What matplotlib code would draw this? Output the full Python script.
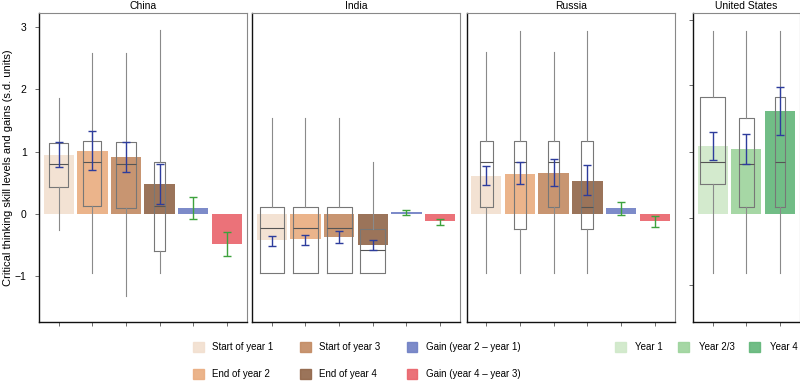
import matplotlib
matplotlib.use('Agg')
import matplotlib.pyplot as plt
import matplotlib.patches as mpatches

plt.rcParams['font.family'] = ['Liberation Sans', 'DejaVu Sans']

# группы и цвета
groups = ['Start of year 1', 'End of year 2', 'Start of year 3', 'End of year 4',
          'Gain (year 2 – year 1)', 'Gain (year 4 – year 3)']
group_colors = ['#f2dfcf', '#e9ac7f', '#c28a62', '#906548', '#6f7fc4', '#e9636a']
us_groups = ['Year 1', 'Year 2/3', 'Year 4']
us_colors = ['#cfe8c8', '#9cd39b', '#62b679']

# средние (столбцы)
china_bars = [0.95, 1.02, 0.92, 0.48, 0.09, -0.48]
india_bars = [-0.42, -0.40, -0.37, -0.49, 0.03, -0.11]
russia_bars = [0.61, 0.65, 0.66, 0.53, 0.09, -0.11]
us_bars = [1.09, 1.04, 1.65]

# доверительные интервалы
china_ci_lo = [0.76, 0.71, 0.67, 0.17, -0.08, -0.67]
china_ci_hi = [1.15, 1.34, 1.15, 0.80, 0.27, -0.29]
india_ci_lo = [-0.51, -0.49, -0.47, -0.58, -0.02, -0.18]
india_ci_hi = [-0.35, -0.34, -0.27, -0.41, 0.07, -0.08]
russia_ci_lo = [0.47, 0.48, 0.45, 0.30, -0.02, -0.21]
russia_ci_hi = [0.77, 0.83, 0.88, 0.78, 0.20, -0.03]
us_ci_lo = [0.86, 0.80, 1.27]
us_ci_hi = [1.32, 1.29, 2.04]

# ящики: нижний ус, Q1, медиана, Q3, верхний ус, ширина
china_box = dict(lo=[-0.26, -0.94, -1.31, -0.94], q1=[0.44, 0.13, 0.09, -0.59],
                 med=[0.80, 0.83, 0.80, 0.13], q3=[1.14, 1.18, 1.15, 0.83],
                 hi=[1.86, 2.59, 2.58, 2.95], w=[0.57, 0.54, 0.60, 0.35])
india_box = dict(lo=[-0.94, -0.94, -0.94, -0.94], q1=[-0.94, -0.94, -0.94, -0.94],
                 med=[-0.23, -0.23, -0.23, -0.58], q3=[0.12, 0.12, 0.12, -0.24],
                 hi=[1.54, 1.54, 1.54, 0.83], w=[0.70, 0.75, 0.75, 0.75])
russia_box = dict(lo=[-0.94, -0.94, -0.94, -0.94], q1=[0.12, -0.24, 0.12, -0.24],
                  med=[0.83, 0.83, 0.83, 0.12], q3=[1.18, 1.18, 1.18, 1.18],
                  hi=[2.60, 2.94, 2.60, 2.94], w=[0.40, 0.36, 0.34, 0.35])
us_box = dict(lo=[-0.94, -0.94, -0.94], q1=[0.48, 0.12, 0.12],
              med=[0.83, 0.80, 0.83], q3=[1.88, 1.54, 1.88],
              hi=[2.94, 2.94, 2.94], w=[0.74, 0.44, 0.30])

panels = [
    ('China', china_bars, china_ci_lo, china_ci_hi, china_box, group_colors),
    ('India', india_bars, india_ci_lo, india_ci_hi, india_box, group_colors),
    ('Russia', russia_bars, russia_ci_lo, russia_ci_hi, russia_box, group_colors),
    ('United States', us_bars, us_ci_lo, us_ci_hi, us_box, us_colors),
]

fig = plt.figure(figsize=(8, 3.82), dpi=100)
W, H = 800, 382
ax_px = [(39.3, 247), (252.3, 460.3), (466.7, 675), (693.3, 800)]
ylo, yhi = -1.73, 3.22

for i, (name, bars, ci_lo, ci_hi, box, colors) in enumerate(panels):
    x0, x1 = ax_px[i]
    ax = fig.add_axes([x0 / W, 1 - 322 / H, (x1 - x0) / W, (322 - 13.3) / H])
    n = len(bars)
    xs = list(range(n))
    ax.bar(xs, bars, width=0.9, color=colors, alpha=0.9, zorder=1)

    stats = []
    for k in range(len(box['med'])):
        stats.append(dict(whislo=box['lo'][k], q1=box['q1'][k], med=box['med'][k],
                          q3=box['q3'][k], whishi=box['hi'][k], fliers=[]))
    ax.bxp(stats, positions=list(range(len(stats))), widths=box['w'],
           showcaps=False, patch_artist=False, manage_ticks=False,
           boxprops=dict(color='#777777', lw=0.8),
           whiskerprops=dict(color='#8a8a8a', lw=0.8),
           medianprops=dict(color='#555555', lw=0.8), zorder=2)

    # интервалы: синие для уровней, зелёные для приростов
    for k in range(n):
        is_gain = (n == 6 and k >= 4)
        c = '#3da23d' if is_gain else '#2d3c9c'
        mid = (ci_lo[k] + ci_hi[k]) / 2
        ax.errorbar(k, mid, yerr=[[mid - ci_lo[k]], [ci_hi[k] - mid]], fmt='none',
                    ecolor=c, elinewidth=1.0, capsize=3, capthick=1.0, zorder=3)

    if n == 6:
        ax.set_xlim(-0.58, 5.6)
    else:
        ax.set_xlim(-0.58, 2.6)
    ax.set_ylim(ylo, yhi)
    ax.set_xticks(xs)
    ax.set_xticklabels([])
    ax.tick_params(axis='x', length=3, width=0.6, color='#555555')
    ax.tick_params(axis='y', length=3, width=0.6, color='#555555', labelsize=7.5, pad=6)
    if i == 0:
        ax.set_yticks([3, 2, 1, 0, -1])
        ax.set_yticklabels(['3', '2', '1', '0', '−1'])
        ax.set_ylabel('Critical thinking skill levels and gains (s.d. units)', fontsize=8)
        ax.yaxis.set_label_coords(-0.128, 0.5)
    elif i == 3:
        ax.set_yticks([3.12, 2.07, 1.0, -0.07, -1.14])
        ax.set_yticklabels([])
    else:
        ax.set_yticks([])
    for side in ['top', 'right']:
        ax.spines[side].set_color('#888888')
        ax.spines[side].set_linewidth(0.8)
    for side in ['left', 'bottom']:
        ax.spines[side].set_color('#111111')
        ax.spines[side].set_linewidth(1.0)
    ax.set_title(name, fontsize=7.5, pad=3)

h1 = [mpatches.Patch(color=c, alpha=0.9) for c in group_colors]
fig.legend(h1, groups, ncol=3, loc='upper left', bbox_to_anchor=(188 / W, 1 - 337 / H),
           frameon=False, fontsize=7, handlelength=1.1, handleheight=1.2,
           handletextpad=0.85, columnspacing=2.75, labelspacing=1.7, borderpad=0)
h2 = [mpatches.Patch(color=c, alpha=0.9) for c in us_colors]
fig.legend(h2, us_groups, ncol=3, loc='upper left', bbox_to_anchor=(610 / W, 1 - 337 / H),
           frameon=False, fontsize=7, handlelength=1.1, handleheight=1.2,
           handletextpad=1.0, columnspacing=1.55, borderpad=0)

fig.savefig('out.png', dpi=100)
